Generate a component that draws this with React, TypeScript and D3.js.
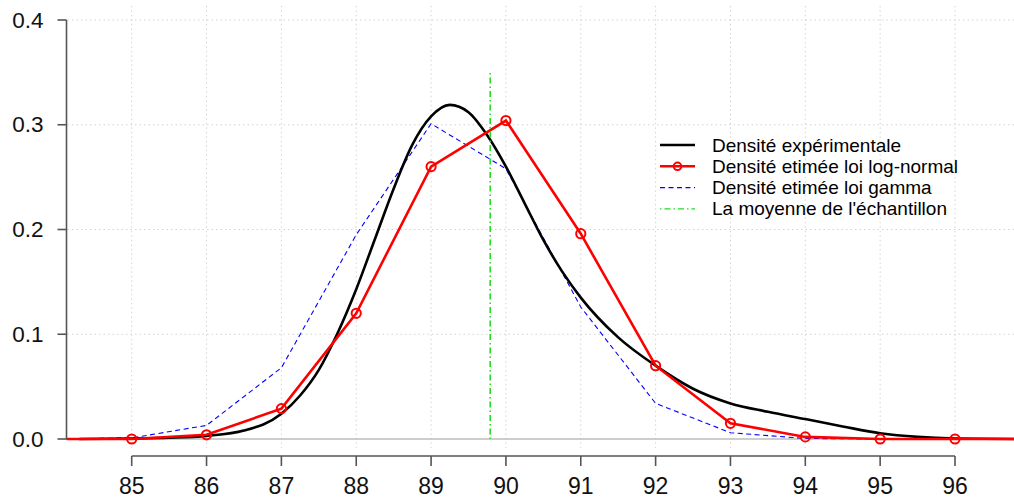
import React from "react";
import * as d3 from "d3";

const xTicks = [85, 86, 87, 88, 89, 90, 91, 92, 93, 94, 95, 96];
const yTicks = [0, 0.1, 0.2, 0.3, 0.4];
const yTickLabels = ["0.0", "0.1", "0.2", "0.3", "0.4"];

// Densité expérimentale (kernel density)
const kdX = [84.3, 85, 85.5, 86, 86.5, 87, 87.25, 87.5, 87.75, 88, 88.25, 88.5, 88.75, 89, 89.25, 89.5, 89.75, 90, 90.25, 90.5, 90.75, 91, 91.5, 92, 92.5, 93, 93.5, 94, 94.5, 95, 95.5, 96, 96.8];
const kdY = [0, 0.0005, 0.0012, 0.003, 0.008, 0.024, 0.0415, 0.066, 0.101, 0.143, 0.191, 0.239, 0.281, 0.308, 0.319, 0.312, 0.29, 0.26, 0.225, 0.19, 0.16, 0.135, 0.097, 0.07, 0.048, 0.034, 0.026, 0.019, 0.012, 0.0055, 0.002, 0.0005, 0];

// Densité estimée loi log-normale
const lnX = [84, 85, 86, 87, 88, 89, 90, 91, 92, 93, 94, 95, 96, 97];
const lnY = [0, 0.0, 0.004, 0.029, 0.12, 0.26, 0.304, 0.196, 0.07, 0.015, 0.002, 0.0, 0.0, 0];

// Densité estimée loi gamma
const gX = [84, 85, 86, 87, 88, 89, 90, 91, 92, 93, 94, 95, 96, 97];
const gY = [0, 0.001, 0.013, 0.068, 0.195, 0.301, 0.258, 0.126, 0.034, 0.006, 0.0005, 0, 0, 0];

const meanValue = 89.79;
const meanTop = 0.35;

const legendLabels = [
  "Densité expérimentale",
  "Densité etimée loi log-normal",
  "Densité etimée loi gamma",
  "La moyenne de l'échantillon",
];

const W = 1014;
const H = 500;

export default function App() {
  const x = d3.scaleLinear().domain([85, 96]).range([131.7, 955]);
  const y = d3.scaleLinear().domain([0, 0.4]).range([439, 20]);
  const left = 66.5;
  const gridTop = y(0.4135);
  const gridBottom = y(-0.0085);
  const axisY = 456;

  const kdLine = d3
    .line<number>()
    .x((_, i) => x(kdX[i]))
    .y((d) => y(d))
    .curve(d3.curveMonotoneX);
  const lnLine = d3
    .line<number>()
    .x((_, i) => x(lnX[i]))
    .y((d) => y(d));
  const gLine = d3
    .line<number>()
    .x((_, i) => x(gX[i]))
    .y((d) => y(d));

  const font = "'Liberation Sans', Arial, Helvetica, sans-serif";
  const legX0 = 660;
  const legX1 = 695;
  const legTextX = 712;
  const legY0 = 145;
  const legDy = 21.3;

  return (
    <svg
      width={W}
      height={H}
      style={{ position: "absolute", left: 0, top: 0, background: "#fff" }}
      fontFamily={font}
    >
      <defs>
        <clipPath id="plotclip">
          <rect x={left} y={0} width={W - left} height={gridBottom + 2} />
        </clipPath>
      </defs>

      {/* grid */}
      {xTicks.map((t) => (
        <line
          key={"gx" + t}
          x1={x(t)}
          x2={x(t)}
          y1={gridTop}
          y2={gridBottom}
          stroke="#d3d3d3"
          strokeWidth={1}
          strokeDasharray="1.5,3"
        />
      ))}
      {yTicks.slice(1).map((t) => (
        <line
          key={"gy" + t}
          x1={left + 1}
          x2={W}
          y1={y(t)}
          y2={y(t)}
          stroke="#d3d3d3"
          strokeWidth={1}
          strokeDasharray="1.5,3"
        />
      ))}
      {/* zero line */}
      <line x1={left} x2={W} y1={y(0)} y2={y(0)} stroke="#bdbdbd" strokeWidth={1.5} />

      <g clipPath="url(#plotclip)">
        <path d={gLine(gY) || ""} fill="none" stroke="#0000ff" strokeWidth={1.1} strokeDasharray="5,3.5" />
        <path d={kdLine(kdY) || ""} fill="none" stroke="#000" strokeWidth={2.6} />
        <path d={lnLine(lnY) || ""} fill="none" stroke="#ff0000" strokeWidth={2.6} />
        {lnY.map((v, i) => (
          <circle
            key={"c" + i}
            cx={x(lnX[i])}
            cy={y(v)}
            r={4.6}
            fill="none"
            stroke="#ff0000"
            strokeWidth={2}
          />
        ))}
        <line
          x1={x(meanValue)}
          x2={x(meanValue)}
          y1={y(0)}
          y2={y(meanTop)}
          stroke="#22dd22"
          strokeWidth={1.6}
          strokeDasharray="1.5,3,6,3"
        />
      </g>

      {/* y axis */}
      <line x1={left} x2={left} y1={y(0)} y2={y(0.4)} stroke="#555" strokeWidth={1.6} />
      {yTicks.map((t, i) => (
        <g key={"yt" + t}>
          <line x1={left - 9} x2={left} y1={y(t)} y2={y(t)} stroke="#555" strokeWidth={1.6} />
          <text
            x={left - 23}
            y={y(t)}
            textAnchor="end"
            dominantBaseline="central"
            fontSize={22.5}
            fill="#111"
          >
            {yTickLabels[i]}
          </text>
        </g>
      ))}

      {/* x axis */}
      <line x1={x(85)} x2={x(96)} y1={axisY} y2={axisY} stroke="#555" strokeWidth={1.6} />
      {xTicks.map((t) => (
        <g key={"xt" + t}>
          <line x1={x(t)} x2={x(t)} y1={axisY} y2={axisY + 10} stroke="#555" strokeWidth={1.6} />
          <text x={x(t)} y={494} textAnchor="middle" fontSize={23} fill="#111">
            {t}
          </text>
        </g>
      ))}

      {/* legend */}
      <g>
        <line x1={legX0} x2={legX1} y1={legY0} y2={legY0} stroke="#000" strokeWidth={2.6} />
        <line x1={legX0} x2={legX1} y1={legY0 + legDy} y2={legY0 + legDy} stroke="#ff0000" strokeWidth={2.6} />
        <circle cx={(legX0 + legX1) / 2} cy={legY0 + legDy} r={3.8} fill="none" stroke="#ff0000" strokeWidth={2} />
        <line
          x1={legX0}
          x2={legX1}
          y1={legY0 + 2 * legDy}
          y2={legY0 + 2 * legDy}
          stroke="#0000ff"
          strokeWidth={1.1}
          strokeDasharray="5,3.5"
        />
        <line
          x1={legX0}
          x2={legX1}
          y1={legY0 + 3 * legDy}
          y2={legY0 + 3 * legDy}
          stroke="#22dd22"
          strokeWidth={1.4}
          strokeDasharray="1.5,3,6,3"
        />
        {legendLabels.map((l, i) => (
          <text
            key={l}
            x={legTextX}
            y={legY0 + i * legDy}
            dominantBaseline="central"
            fontSize={19}
            fill="#000"
          >
            {l}
          </text>
        ))}
      </g>
    </svg>
  );
}
